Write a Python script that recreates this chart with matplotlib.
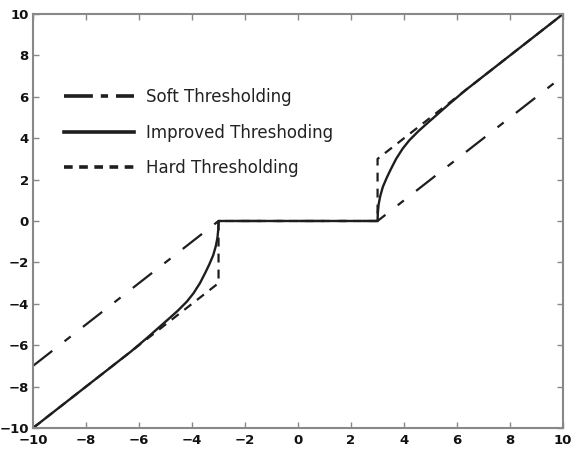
import matplotlib
matplotlib.use("Agg")
import matplotlib.pyplot as plt
from matplotlib.lines import Line2D

# Data
soft_x = [-10, -3, 3, 10]
soft_y = [-7, 0, 0, 7]

hard_x = [-10, -3, -3, 3, 3, 10]
hard_y = [-10, -3, 0, 0, 3, 10]

imp_x_pos = [3.0, 3.01, 3.04, 3.1, 3.2, 3.35, 3.5, 3.7, 3.95, 4.2, 4.55, 4.9, 5.3, 5.7, 6.3, 7.0, 8.0, 9.0, 10.0]
imp_y_pos = [0.0, 0.4, 0.8, 1.2, 1.65, 2.1, 2.5, 3.0, 3.5, 3.9, 4.35, 4.75, 5.2, 5.65, 6.3, 7.0, 8.0, 9.0, 10.0]
imp_x = [-v for v in imp_x_pos[::-1]] + imp_x_pos
imp_y = [-v for v in imp_y_pos[::-1]] + imp_y_pos

xticks = [-10, -8, -6, -4, -2, 0, 2, 4, 6, 8, 10]
yticks = [-10, -8, -6, -4, -2, 0, 2, 4, 6, 8, 10]
labels = ["Soft Thresholding", "Improved Threshoding", "Hard Thresholding"]

fig = plt.figure(figsize=(5.74, 4.51), dpi=100)
ax = fig.add_axes([0.0575, 0.051, 0.9235, 0.918])

lc = "#1e1e1e"
ax.plot(soft_x, soft_y, color=lc, lw=1.6, dashes=(11, 7, 3.5, 7), label=labels[0])
ax.plot(imp_x, imp_y, color=lc, lw=1.7, label=labels[1])
ax.plot(hard_x, hard_y, color=lc, lw=1.6, dashes=(4, 3.2), label=labels[2])

ax.set_xlim(-10, 10)
ax.set_ylim(-10, 10)
ax.set_xticks(xticks)
ax.set_yticks(yticks)
ax.tick_params(direction="in", top=True, right=True, length=4, width=1, color="#888888",
               labelsize=9.5)
ax.tick_params(axis="x", pad=4)
ax.tick_params(axis="y", pad=3)
for lab in ax.get_xticklabels() + ax.get_yticklabels():
    lab.set_fontweight("bold")
    lab.set_color("#111111")
for s in ax.spines.values():
    s.set_color("#888888")
    s.set_linewidth(1.5)

handles = [
    Line2D([], [], color=lc, lw=2.6, dashes=(8, 2.2, 2, 2.2)),
    Line2D([], [], color=lc, lw=2.6),
    Line2D([], [], color=lc, lw=2.6, dashes=(2.4, 1.8)),
]
leg = ax.legend(handles, labels, loc="upper left", bbox_to_anchor=(0.03, 0.857), frameon=False,
                fontsize=12, handlelength=4.2, handletextpad=0.75, labelspacing=1.05)
for t in leg.get_texts():
    t.set_color("#222222")

fig.savefig("out.png", dpi=100)
